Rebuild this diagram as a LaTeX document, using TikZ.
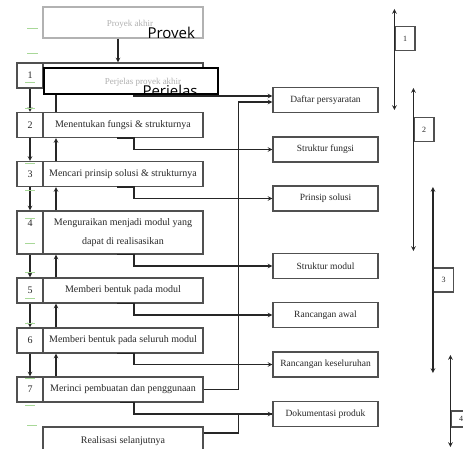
\documentclass[tikz,border=0pt]{standalone}
\usepackage{fontspec}
\setmainfont{Liberation Serif}
\newfontfamily\ovlfont{Open Sans}
\definecolor{boxGray}{HTML}{505050}
\definecolor{txtGray}{HTML}{262626}
\definecolor{fadeGray}{HTML}{B0B0B0}
\definecolor{markGreen}{HTML}{A8D898}

\begin{document}
\begin{tikzpicture}[> = stealth, x = 1pt, y = -1pt, line width = 1.1pt,
    numbox/.style = {draw=boxGray, minimum width=26pt, minimum height=25pt,
                     inner sep=0pt, text=txtGray, font=\fontsize{10}{12}\selectfont},
    stepbox/.style = {draw=boxGray, minimum width=160pt, minimum height=25pt,
                      inner sep=0pt, text=txtGray, align=center,
                      font=\fontsize{10}{12}\selectfont},
    outbox/.style = {draw=boxGray, minimum width=105pt, minimum height=25pt,
                     inner sep=0pt, text=txtGray, font=\fontsize{9.5}{11}\selectfont},
    phasebox/.style = {draw=boxGray, minimum width=20pt, minimum height=24pt,
                       inner sep=0pt, text=txtGray, font=\fontsize{8}{10}\selectfont},
    link/.style = {draw=black!85},
    greenmark/.style = {draw=markGreen, line width=0.8pt}]

    \useasboundingbox (0, 0) rectangle (463, 449) ;
    \clip (0, 0) rectangle (463, 449) ;

    % steps (left column) %

    % start box
    \node [draw=gray!60, minimum width=160pt, minimum height=31pt] (prj) at (123, 22.5) {} ;
    \node [text=fadeGray, font=\fontsize{9}{11}\selectfont] (prjtxt) at (130, 24) {Proyek akhir} ;

    \node [numbox] (num1) at (30, 75.5) {1} ;
    \node [stepbox] (stp1) at (123, 75.5) {} ;

    \node [numbox] (num2) at (30, 125) {2} ;
    \node [stepbox] (stp2) at (123, 125) {Menentukan fungsi \& strukturnya} ;

    \node [numbox] (num3) at (30, 174) {3} ;
    \node [stepbox] (stp3) at (123, 174) {Mencari prinsip solusi \& strukturnya} ;

    \node [numbox, minimum height=43pt] (num4) at (30, 232.5) {} ;
    \node [text=txtGray, font=\fontsize{10}{12}\selectfont] (num4txt) at (30, 223) {4} ;
    \node [stepbox, minimum height=43pt, font=\fontsize{10}{19}\selectfont] (stp4) at (123, 232.5)
          {Menguraikan menjadi modul yang\\ dapat di realisasikan} ;

    \node [numbox] (num5) at (30, 290.5) {5} ;
    \node [stepbox] (stp5) at (123, 290.5) {Memberi bentuk pada modul} ;

    \node [numbox] (num6) at (30, 340.5) {6} ;
    \node [stepbox] (stp6) at (123, 340.5) {Memberi bentuk pada seluruh modul} ;

    \node [numbox] (num7) at (30, 389.5) {7} ;
    \node [stepbox] (stp7) at (123, 389.5) {Merinci pembuatan dan penggunaan} ;

    % last box
    \node [stepbox, minimum height=28pt] (real) at (123, 441) {Realisasi selanjutnya} ;


    % results (right column) %

    \node [outbox] (out1) at (325.5, 100) {Daftar persyaratan} ;
    \node [outbox] (out2) at (325.5, 149.5) {Struktur fungsi} ;
    \node [outbox] (out3) at (325.5, 198.5) {Prinsip solusi} ;
    \node [outbox] (out4) at (325.5, 266) {Struktur modul} ;
    \node [outbox] (out5) at (325.5, 315) {Rancangan awal} ;
    \node [outbox] (out6) at (325.5, 364.5) {Rancangan keseluruhan} ;
    \node [outbox] (out7) at (325.5, 414) {Dokumentasi produk} ;


    % arrows between steps %

    \draw [link, ->] ([xshift=-5pt]prj.south) -- ([xshift=-5pt]stp1.north) ;
    \foreach \a/\b in {1/2, 2/3, 3/4, 4/5, 5/6, 6/7} {
        \draw [link, ->] (num\a) -- (num\b) ;
        \draw [link, ->] ([xshift=-67pt]stp\b.north) -- ([xshift=-67pt]stp\a.south) ;
    }


    % arrows to results %

    \draw [link, ->] ([xshift=-6pt]stp1.south) -- ++(17, 0) |- ([yshift=4pt]out1.west) ;
    \foreach \i in {2, 3, 4, 5, 6} {
        \draw [link, ->] ([xshift=-6pt]stp\i.south) -- ++(17, 0) |- (out\i.west) ;
    }
    \draw [link, ->] ([xshift=-3pt]stp7.south) -- ++(14, 0) |- (out7.west) ;
    \draw [link] ([yshift=8pt]real.east) -- ++(35, 0) |- (out7.west) ;

    % feedback to requirements
    \draw [link, ->] (stp7.east) -- ++(35, 0) |- ([yshift=-2pt]out1.west) ;


    % phases (right side) %

    \node [phasebox] (ph1) at (405, 38.5) {1} ;
    \draw [link, <->] (ph1.west |- 0,9) -- (ph1.west |- 0,110) ;

    \node [phasebox] (ph2) at (424, 129.5) {2} ;
    \draw [link, <->] (ph2.west |- 0,88) -- (ph2.west |- 0,251) ;

    \node [phasebox] (ph3) at (443.5, 280) {3} ;
    \draw [link, <->] (ph3.west |- 0,187) -- (ph3.west |- 0,373) ;

    \node [phasebox, minimum height=16pt] (ph4) at (461, 419) {4} ;
    \draw [link, <->] (ph4.west |- 0,355) -- (ph4.west |- 0,447) ;


    % pasted box on step 1 %

    \node [draw=black, line width=2pt, fill=white, minimum width=174pt,
           minimum height=26pt, inner sep=0pt] (ovl) at (131, 81) {} ;
    \node [text=fadeGray, font=\fontsize{9}{11}\selectfont] (stp1txt) at (143, 82)
          {Perjelas proyek akhir} ;

    \begin{scope}
        \clip (43, 7) rectangle (215, 38) ;
        \node [anchor=base west, inner sep=0pt, font=\ovlfont\fontsize{15}{18}\selectfont]
              (ovlA) at (147, 39) {Proyek} ;
    \end{scope}
    \begin{scope}
        \clip (45, 69) rectangle (217, 93) ;
        \node [anchor=base west, inner sep=0pt, font=\ovlfont\fontsize{15}{18}\selectfont]
              (ovlB) at (142, 97) {Perjelas} ;
    \end{scope}


    % green marks %

    \foreach \y in {28, 53} {
        \draw [greenmark] (27, \y) -- (38, \y) ;
    }
    \foreach \y in {82, 108, 163, 190, 218, 243, 272, 298, 323, 378, 405} {
        \draw [greenmark] (25, \y) -- (35, \y) ;
    }
    \draw [greenmark] (27, 425) -- (37, 425) ;

\end{tikzpicture}
\end{document}
